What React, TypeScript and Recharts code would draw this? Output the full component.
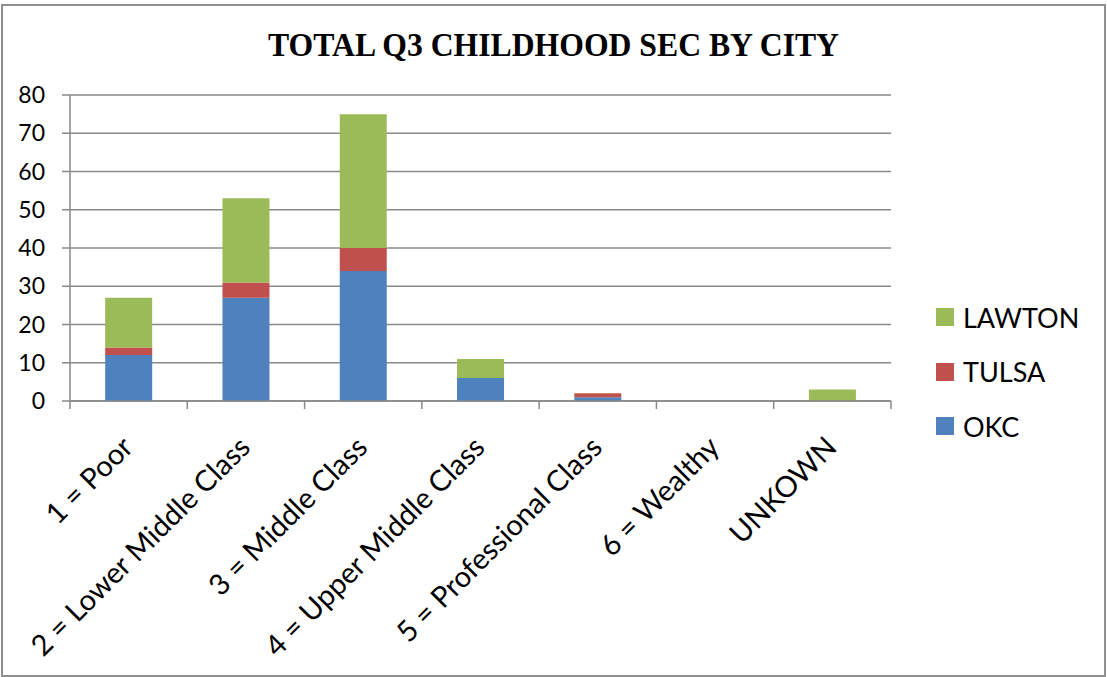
import React from 'react';
import { BarChart, Bar, XAxis, YAxis, CartesianGrid, Legend } from 'recharts';

// Childhood socio-economic class counts per city
const categories = [
  '1 = Poor',
  '2 = Lower Middle Class',
  '3 = Middle Class',
  '4 = Upper Middle Class',
  '5 = Professional Class',
  '6 = Wealthy',
  'UNKOWN',
];
const okc = [12, 27, 34, 6, 1, 0, 0];
const tulsa = [2, 4, 6, 0, 1, 0, 0];
const lawton = [13, 22, 35, 5, 0, 0, 3];
const yTicks = [0, 10, 20, 30, 40, 50, 60, 70, 80];

const series = [
  { key: 'OKC', values: okc, color: '#4F81BD' },
  { key: 'TULSA', values: tulsa, color: '#C0504D' },
  { key: 'LAWTON', values: lawton, color: '#9BBB59' },
];

const data = categories.map((name, i) => {
  const row: Record<string, string | number> = { name };
  series.forEach((s) => {
    row[s.key] = s.values[i];
  });
  return row;
});

const W = 1107;
const H = 677;
const MARGIN = { top: 95, right: 216, bottom: 76, left: 0 };
const Y_AXIS_W = 70;
const X_AXIS_H = 200;
const PLOT_W = W - MARGIN.left - MARGIN.right - Y_AXIS_W;
const BAND = PLOT_W / categories.length;
const GRID = '#898989';
const FONT = 'Lato, "Open Sans", sans-serif';

const CategoryTick = (props: any) => {
  const { x, y, payload, index } = props;
  const left = x - BAND / 2;
  const right = x + BAND / 2;
  const tx = x + 6;
  const ty = y + 48;
  return (
    <g>
      <line x1={left} y1={y} x2={left} y2={y + 8} stroke={GRID} strokeWidth={1.5} />
      {index === categories.length - 1 && (
        <line x1={right} y1={y} x2={right} y2={y + 8} stroke={GRID} strokeWidth={1.5} />
      )}
      <text
        x={tx}
        y={ty}
        textAnchor="end"
        transform={`rotate(-45, ${tx}, ${ty})`}
        fontSize={29}
        fontFamily={FONT}
        fill="#000"
      >
        {payload.value}
      </text>
    </g>
  );
};

const LegendContent = () => (
  <div style={{ fontFamily: FONT, fontSize: 27, color: '#000' }}>
    {[...series].reverse().map((s) => (
      <div key={s.key} style={{ display: 'flex', alignItems: 'center', height: 54.5 }}>
        <span style={{ width: 18, height: 18, background: s.color, display: 'inline-block', marginRight: 9 }} />
        <span>{s.key}</span>
      </div>
    ))}
  </div>
);

export default function App() {
  return (
    <div style={{ position: 'relative', width: W, height: H, background: '#fff' }}>
      <style>{`body{margin:0;}`}</style>
      <div
        style={{
          position: 'absolute',
          left: 1,
          top: 4,
          width: 1105,
          height: 673,
          border: '2px solid #8e8e8e',
          boxSizing: 'border-box',
        }}
      />
      <svg width={W} height={80} style={{ position: 'absolute', left: 0, top: 0 }}>
        <text
          x={268}
          y={56}
          fontFamily='"Liberation Serif", "Times New Roman", serif'
          fontWeight="bold"
          fontSize={33}
          textLength={571}
          lengthAdjust="spacingAndGlyphs"
          fill="#000"
        >
          TOTAL Q3 CHILDHOOD SEC BY CITY
        </text>
      </svg>
      <div style={{ position: 'absolute', left: 0, top: 0 }}>
        <BarChart width={W} height={H} data={data} margin={MARGIN} barCategoryGap="30%">
          <CartesianGrid horizontal vertical={false} stroke={GRID} strokeWidth={1.5} />
          <XAxis
            dataKey="name"
            interval={0}
            height={X_AXIS_H}
            tickLine={false}
            tickSize={0}
            tickMargin={0}
            axisLine={{ stroke: GRID, strokeWidth: 1.5 }}
            tick={<CategoryTick />}
          />
          <YAxis
            width={Y_AXIS_W}
            domain={[0, 80]}
            ticks={yTicks}
            interval={0}
            tickSize={8}
            tickMargin={17}
            axisLine={{ stroke: GRID, strokeWidth: 1.5 }}
            tickLine={{ stroke: GRID, strokeWidth: 1.5 }}
            tick={{ fontSize: 23, fontFamily: FONT, fill: '#000' }}
          />
          <Legend
            layout="vertical"
            align="center"
            verticalAlign="middle"
            content={<LegendContent />}
            wrapperStyle={{ left: 936, top: 290, width: 160 }}
          />
          {series.map((s) => (
            <Bar key={s.key} dataKey={s.key} stackId="city" fill={s.color} isAnimationActive={false} />
          ))}
        </BarChart>
      </div>
    </div>
  );
}
